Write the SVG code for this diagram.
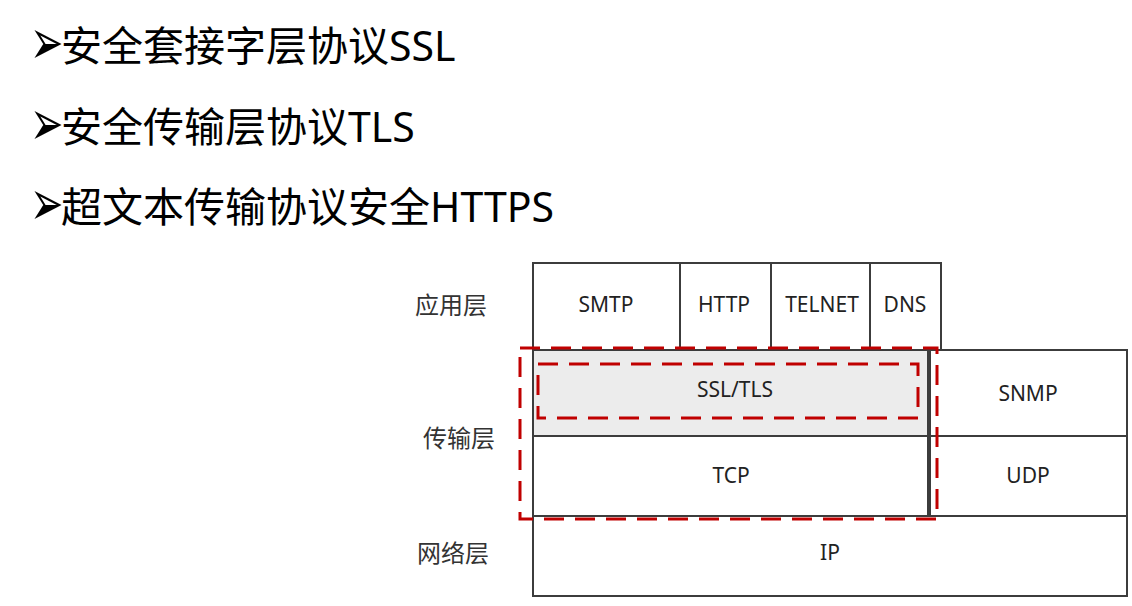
<svg xmlns="http://www.w3.org/2000/svg" width="1132" height="606" viewBox="0 0 1132 606">
  <style>
    .head { font-family: "Noto Sans", "Noto Sans CJK SC", sans-serif; font-size: 41px; fill: #000; }
    .bullet { font-family: "DejaVu Sans", sans-serif; font-size: 40px; fill: #000; }
    .cell { fill: #fff; stroke: #3c3c3c; stroke-width: 2; }
    .cell.grey { fill: #ececec; }
    .lbl { font-family: "Noto Sans", "Noto Sans CJK SC", sans-serif; font-size: 21px; fill: #222; text-anchor: middle; }
    .layer { font-family: "Noto Sans CJK SC", sans-serif; font-size: 24px; fill: #333; text-anchor: middle; }
    .dash { fill: none; stroke: #c00000; stroke-width: 3; stroke-dasharray: 20 11; }
  </style>

  <!-- bullet list -->
  <g id="title-ssl">
    <text class="bullet" transform="translate(30,64) scale(1,1.6)">➢</text>
    <text class="head" x="61" y="61">安全套接字层协议SSL</text>
  </g>
  <g id="title-tls">
    <text class="bullet" transform="translate(30,145) scale(1,1.6)">➢</text>
    <text class="head" x="61" y="142">安全传输层协议TLS</text>
  </g>
  <g id="title-https">
    <text class="bullet" transform="translate(30,225) scale(1,1.6)">➢</text>
    <text class="head" x="61" y="222">超文本传输协议安全HTTPS</text>
  </g>

  <!-- layer names -->
  <g id="layer-app"><text class="layer" x="451" y="314">应用层</text></g>
  <g id="layer-transport"><text class="layer" x="459" y="447">传输层</text></g>
  <g id="layer-network"><text class="layer" x="453" y="562">网络层</text></g>

  <!-- application layer -->
  <g id="smtp"><rect class="cell" x="533" y="263" width="147" height="87"/><text class="lbl" x="606" y="312">SMTP</text></g>
  <g id="http"><rect class="cell" x="680" y="263" width="91" height="87"/><text class="lbl" x="724" y="312">HTTP</text></g>
  <g id="telnet"><rect class="cell" x="771" y="263" width="99" height="87"/><text class="lbl" x="822" y="312">TELNET</text></g>
  <g id="dns"><rect class="cell" x="870" y="263" width="71" height="87"/><text class="lbl" x="905" y="312">DNS</text></g>

  <!-- transport layer -->
  <g id="ssl-tls"><rect class="cell grey" x="533" y="350" width="395" height="86"/><text class="lbl" x="735" y="397">SSL/TLS</text></g>
  <g id="tcp"><rect class="cell" x="533" y="436" width="395" height="80"/><text class="lbl" x="731" y="483">TCP</text></g>
  <g id="snmp"><rect class="cell" x="930" y="350" width="197" height="86"/><text class="lbl" x="1028" y="401">SNMP</text></g>
  <g id="udp"><rect class="cell" x="930" y="436" width="197" height="80"/><text class="lbl" x="1028" y="483">UDP</text></g>

  <!-- network layer -->
  <g id="ip"><rect class="cell" x="533" y="516" width="594" height="80"/><text class="lbl" x="830" y="560">IP</text></g>

  <!-- highlight outlines -->
  <g id="connectors">
    <rect class="dash" x="520" y="348" width="417" height="171"/>
    <rect class="dash" x="538" y="364" width="380" height="54"/>
  </g>
</svg>
